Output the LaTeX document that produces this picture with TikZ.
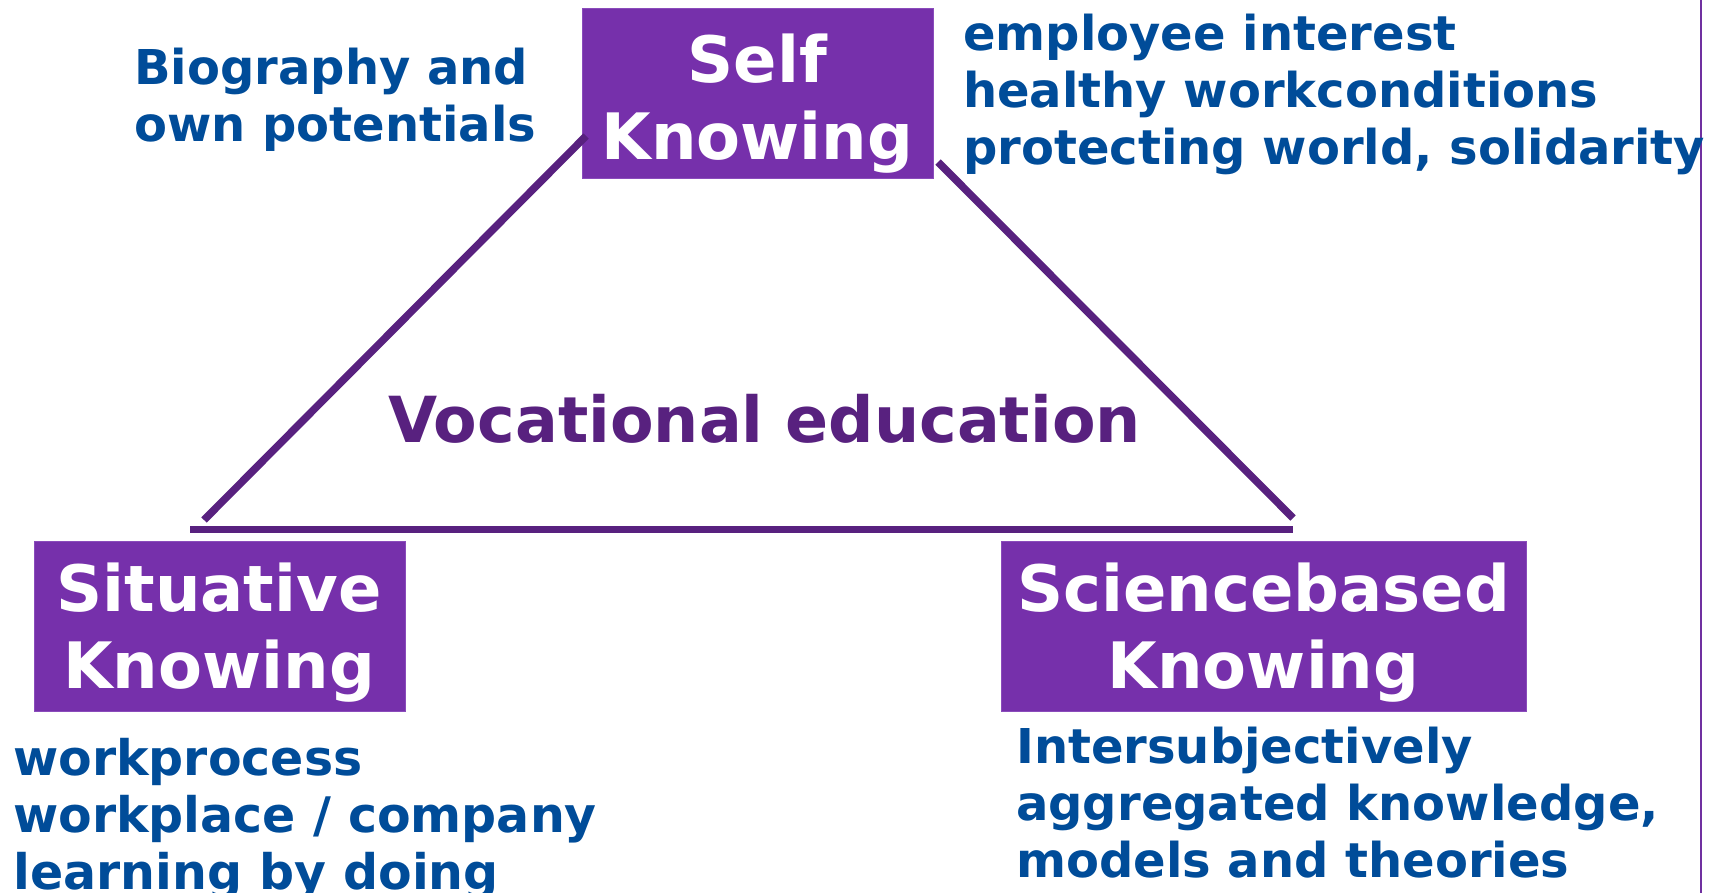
\documentclass[tikz,border=0pt]{standalone}
\usepackage{fontspec}
\setmainfont{DejaVu Sans}
\definecolor{boxfill}{HTML}{7630AB}
\definecolor{boxedge}{HTML}{8A4CBB}
\definecolor{linecol}{HTML}{58217F}
\definecolor{bluetxt}{HTML}{004C99}
\definecolor{railcol}{HTML}{7030A0}
\begin{document}
\begin{tikzpicture}[x=1pt,y=-1pt,
  kbox/.style={fill=boxfill, draw=boxedge, line width=1pt, inner sep=0pt, minimum height=170pt},
  ktext/.style={text=white, font=\fontsize{64}{77}\selectfont\bfseries, align=center, inner sep=0pt, anchor=base},
  note/.style={text=bluetxt, font=\fontsize{48}{57}\selectfont\bfseries, align=left, inner sep=0pt, anchor=base west},
  title/.style={text=linecol, font=\fontsize{63.5}{77}\selectfont\bfseries, inner sep=0pt, anchor=base west},
  edge/.style={draw=linecol, line width=7.5pt},
  rail/.style={draw=railcol, line width=2pt}]
\useasboundingbox (0,0) rectangle (1712,893);
% boxes
\node[kbox, minimum width=351pt] (self) at (757.5,94) {};
\node[kbox, minimum width=371pt] (sit) at (219.5,626) {};
\node[kbox, minimum width=525pt] (sci) at (1263.5,626) {};
\node[ktext] (selft) at (757.5,160) {Self\\Knowing};
\node[ktext] (sitt) at (219,688) {Situative\\Knowing};
\node[ktext] (scit) at (1263.5,688) {Sciencebased\\Knowing};
% triangle
\coordinate (lt) at (586,136);
\coordinate (lb) at (204,520);
\coordinate (rt) at (938,162);
\coordinate (rb) at (1293,518);
\coordinate (hl) at (190,529.5);
\coordinate (hr) at (1293,529.5);
\draw[edge] (lt) -- (lb);
\draw[edge] (rt) -- (rb);
\draw[edge] (hl) -- (hr);
% rail at the right
\coordinate (railtop) at (1701,0);
\coordinate (railbot) at (1701,893);
\draw[rail] (railtop) -- (railbot);
% texts
\node[title] (voc) at (388,442) {Vocational education};
\node[note] (bio) at (134,142) {Biography and\\own potentials};
\node[note] (emp) at (963,165) {employee interest\\healthy workconditions\\protecting world, solidarity};
\node[note, font=\fontsize{49}{57}\selectfont\bfseries] (work) at (13,889) {workprocess\\workplace / company\\learning by doing};
\node[note] (inter) at (1016,877) {Intersubjectively\\aggregated knowledge,\\models and theories};
\end{tikzpicture}
\end{document}
